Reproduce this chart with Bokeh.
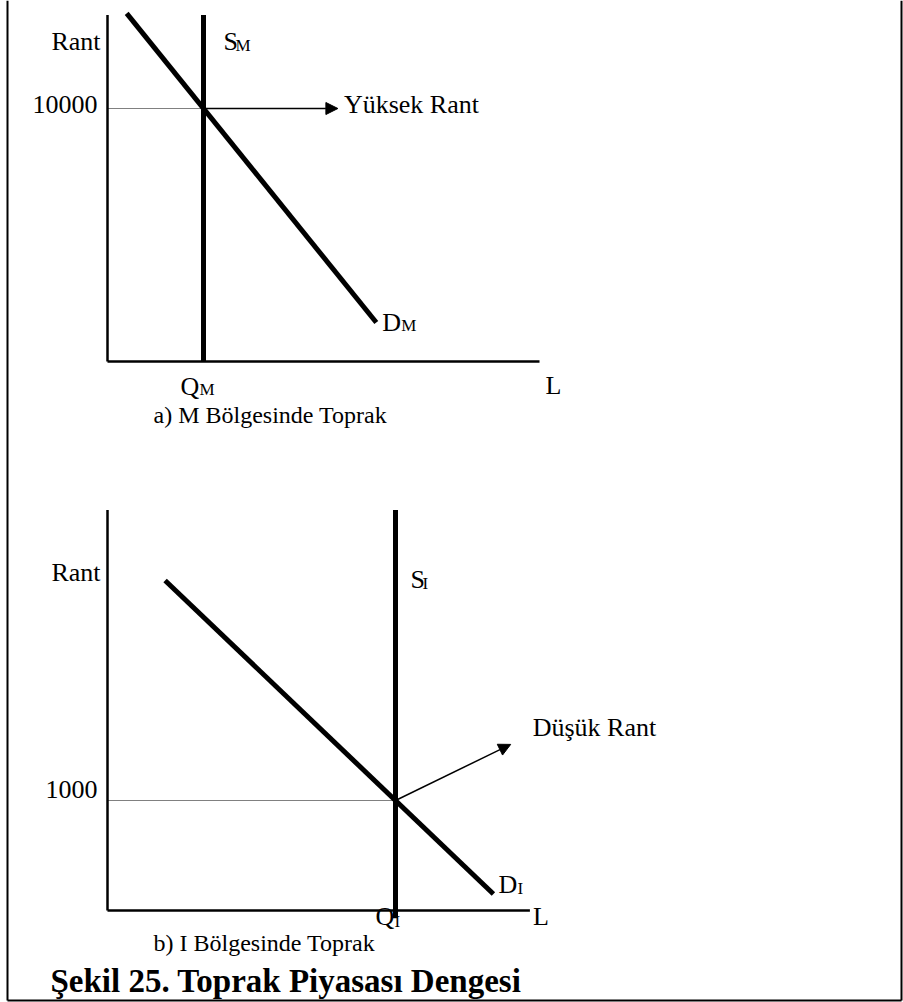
from bokeh.plotting import figure
from bokeh.models import Range1d, Arrow, NormalHead
from bokeh.core.properties import value
from bokeh.embed import file_html
from bokeh.resources import INLINE

# ---------------- data ----------------
# Panel a: M region (high rent)
L_AXIS_A = [0, 450]          # quantity-axis extent
R_AXIS_A = [0, 13700]        # rent-axis extent
Q_M = 100                    # fixed land supply S_M
R_M = 10000                  # equilibrium rent
DM_L = [20, 280]             # demand D_M endpoints (quantity)
DM_R = [13760, 1540]         # demand D_M endpoints (rent)
ARROW_A_END = [240, 10000]

# Panel b: I region (low rent)
L_AXIS_B = [0, 440]
R_AXIS_B = [0, 3640]
Q_I = 300
R_I = 1000
SI_R = [-70, 3640]
DI_L = [60, 402]
DI_R = [3000, 150]
ARROW_B_END = [420, 1510]

TITLE = "Şekil 25. Toprak Piyasası Dengesi"
CAP_A = "a) M Bölgesinde Toprak"
CAP_B = "b) I Bölgesinde Toprak"

# ---------------- layout ----------------
W, H = 903, 1002
PAGE_X = (0, 903)
PAGE_Y = (1002, 0)
KX = 0.96
ORIG_A = (107, 361); KY_A = 0.0253
ORIG_B = (107, 910); KY_B = 0.11

FONT = value("Liberation Serif")
FS = value("26px")
FSUB = value("17px")

p = figure(width=W, height=H, output_backend="svg", toolbar_location=None,
           x_range=Range1d(*PAGE_X), y_range=Range1d(*PAGE_Y),
           min_border=0, outline_line_color=None)
p.axis.visible = False
p.grid.visible = False

def xr(orig):
    return Range1d((PAGE_X[0] - orig[0]) / KX, (PAGE_X[1] - orig[0]) / KX)

def yr(orig, ky):
    return Range1d((orig[1] - PAGE_Y[0]) / ky, (orig[1] - PAGE_Y[1]) / ky)

p.extra_x_ranges = {"xa": xr(ORIG_A), "xb": xr(ORIG_B)}
p.extra_y_ranges = {"ya": yr(ORIG_A, KY_A), "yb": yr(ORIG_B, KY_B)}

# outer frame
p.line([7, 7], [0, 1000], line_color="black", line_width=2)
p.line([7, 901], [1000, 1000], line_color="black", line_width=2)
p.line([901, 901], [0, 1000], line_color="black", line_width=2)

def panel(xn, yn, Lax, Rax, Q, R, S_R, D_L, D_R, arr_end):
    kw = dict(x_range_name=xn, y_range_name=yn)
    # axes
    p.line([0, 0], Rax, line_color="black", line_width=2.5, **kw)
    p.line(Lax, [0, 0], line_color="black", line_width=2.5, **kw)
    # dotted guide
    p.line([0, Q], [R, R], line_color="black", line_width=1, line_dash="1 1", **kw)
    # supply
    p.line([Q, Q], S_R, line_color="black", line_width=5, **kw)
    # demand
    p.line(D_L, D_R, line_color="black", line_width=5, **kw)
    # arrow
    p.add_layout(Arrow(end=NormalHead(size=12, fill_color="black", line_color="black"),
                       x_start=Q, y_start=R, x_end=arr_end[0], y_end=arr_end[1],
                       line_width=1.5, line_color="black", **kw))

def txt(x, y, t, xo, yo, size=FS, align="left", **kw):
    p.text(x=[x], y=[y], text=[t], x_offset=xo, y_offset=yo, text_font=FONT,
           text_font_size=size, text_align=align, text_baseline="alphabetic",
           text_color="black", **kw)

panel("xa", "ya", L_AXIS_A, R_AXIS_A, Q_M, R_M, R_AXIS_A, DM_L, DM_R, ARROW_A_END)
panel("xb", "yb", L_AXIS_B, R_AXIS_B, Q_I, R_I, SI_R, DI_L, DI_R, ARROW_B_END)

ka = dict(x_range_name="xa", y_range_name="ya")
txt(0, R_AXIS_A[1], "Rant", -7, 27, align="right", **ka)
txt(0, R_M, "10000", -10, -4, align="right", **ka)
txt(Q_M, R_AXIS_A[1], "S", 20, 27, **ka)
txt(Q_M, R_AXIS_A[1], "M", 32, 31, size=FSUB, **ka)
txt(ARROW_A_END[0], ARROW_A_END[1], "Yüksek Rant", 6, -4, **ka)
txt(DM_L[1], DM_R[1], "D", 6, 0, **ka)
txt(DM_L[1], DM_R[1], "M", 25, 3, size=FSUB, **ka)
txt(Q_M, 0, "Q", -23, 25, **ka)
txt(Q_M, 0, "M", -4, 28, size=FSUB, **ka)
txt(L_AXIS_A[1], 0, "L", 6, 24, **ka)

kb = dict(x_range_name="xb", y_range_name="yb")
txt(0, R_AXIS_B[1], "Rant", -7, 62, align="right", **kb)
txt(0, R_I, "1000", -10, -11, align="right", **kb)
txt(Q_I, R_AXIS_B[1], "S", 15, 69, **kb)
txt(Q_I, R_AXIS_B[1], "I", 27, 73, size=FSUB, **kb)
txt(ARROW_B_END[0], ARROW_B_END[1], "Düşük Rant", 22, -17, **kb)
txt(DI_L[1], DI_R[1], "D", 5, -10, **kb)
txt(DI_L[1], DI_R[1], "I", 24, -6, size=FSUB, **kb)
txt(Q_I, 0, "Q", -20, 6, **kb)
txt(Q_I, 0, "I", -1, 11, size=FSUB, **kb)
txt(L_AXIS_B[1], 0, "L", 3, 6, **kb)

# captions and title (page coordinates)
txt(153, 414, CAP_A, 0, 0, size=value("24px"))
txt(153, 942, CAP_B, 0, 0, size=value("24px"))
p.text(x=[50], y=[980], text=[TITLE], text_font=FONT, text_font_size=value("33px"),
       text_font_style="bold", text_align="left", text_baseline="alphabetic",
       text_color="black")

open("out.html", "w").write(file_html(p, INLINE))
